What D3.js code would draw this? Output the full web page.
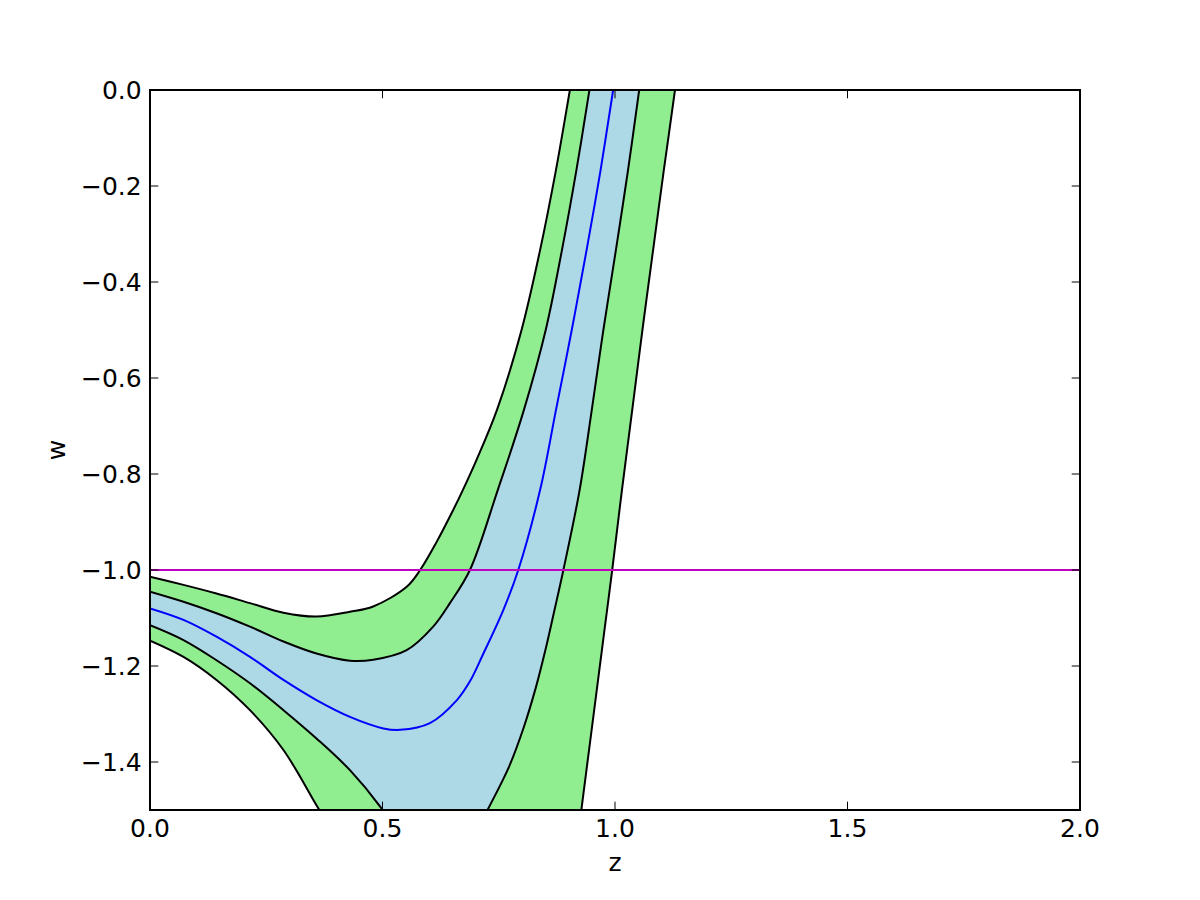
<!DOCTYPE html>
<html>
<head>
<meta charset="utf-8">
<script src="https://cdn.jsdelivr.net/npm/d3@7"></script>
<style>
body { margin: 0; background: white; }
text { font-family: "DejaVu Sans", sans-serif; font-size: 25px; fill: black; }
</style>
</head>
<body>
<svg id="chart" width="1200" height="900"></svg>
<script>
// outer band (2 sigma), upper edge
var zUp2 = [0, 0.072, 0.143, 0.215, 0.287, 0.358, 0.43, 0.48, 0.552, 0.581, 0.615, 0.652, 0.673, 0.702, 0.746, 0.799, 0.839, 0.873, 0.903, 0.912]
var wUp2 = [-1.014, -1.031, -1.049, -1.069, -1.089, -1.097, -1.087, -1.076, -1.035, -1.0, -0.944, -0.875, -0.833, -0.771, -0.667, -0.5, -0.333, -0.167, 0, 0.05]
// inner band (1 sigma), upper edge
var zUp1 = [0, 0.072, 0.143, 0.215, 0.287, 0.358, 0.43, 0.48, 0.552, 0.609, 0.645, 0.688, 0.748, 0.804, 0.851, 0.886, 0.917, 0.945, 0.953]
var wUp1 = [-1.045, -1.066, -1.09, -1.118, -1.149, -1.174, -1.189, -1.187, -1.167, -1.118, -1.069, -1.0, -0.833, -0.667, -0.5, -0.333, -0.167, 0, 0.05]
// mean curve
var zMid = [0, 0.072, 0.143, 0.215, 0.287, 0.358, 0.43, 0.502, 0.538, 0.602, 0.66, 0.688, 0.716, 0.76, 0.792, 0.839, 0.873, 0.907, 0.939, 0.969, 0.996, 1.005]
var wMid = [-1.08, -1.104, -1.139, -1.181, -1.229, -1.271, -1.306, -1.33, -1.333, -1.319, -1.271, -1.232, -1.176, -1.083, -1.0, -0.833, -0.667, -0.5, -0.333, -0.167, 0, 0.05]
// inner band lower edge: left piece (leaves through the bottom) and right piece
var zLo1a = [0, 0.072, 0.143, 0.215, 0.287, 0.358, 0.43, 0.495, 0.52]
var wLo1a = [-1.115, -1.146, -1.188, -1.236, -1.292, -1.351, -1.417, -1.493, -1.53]
var zLo1b = [0.71, 0.7275, 0.772, 0.804, 0.83, 0.852, 0.87, 0.889, 0.924, 0.95, 0.975, 1.002, 1.028, 1.052, 1.059]
var wLo1b = [-1.53, -1.497, -1.41, -1.327, -1.244, -1.16, -1.083, -1.0, -0.833, -0.667, -0.5, -0.333, -0.167, 0, 0.05]
// outer band lower edge, same split
var zLo2a = [0, 0.072, 0.143, 0.215, 0.287, 0.358, 0.383]
var wLo2a = [-1.147, -1.181, -1.229, -1.292, -1.375, -1.49, -1.53]
var zLo2b = [0.924, 0.928, 0.945, 0.96, 0.971, 0.983, 0.994, 1.015, 1.037, 1.059, 1.082, 1.105, 1.129, 1.135]
var wLo2b = [-1.53, -1.497, -1.369, -1.256, -1.173, -1.083, -1.0, -0.833, -0.667, -0.5, -0.333, -0.167, 0, 0.05]

var wRef = -1 // horizontal reference line
var xTicks = [0, 0.5, 1, 1.5, 2]
var yTicks = [0, -0.2, -0.4, -0.6, -0.8, -1.0, -1.2, -1.4]

// plot box (window.top is read-only, so no plain "top" here)
var padL = 150, padR = 1080, padT = 90, padB = 810

var svg = d3.select("#chart")
var x = d3.scaleLinear().domain([0, 2]).range([padL, padR])
var y = d3.scaleLinear().domain([-1.5, 0]).range([padB, padT])

function pts(zs, ws) {
  return zs.map((z, i) => [z, ws[i]])
}

var up2 = pts(zUp2, wUp2), up1 = pts(zUp1, wUp1), mid = pts(zMid, wMid)
var lo1a = pts(zLo1a, wLo1a), lo1b = pts(zLo1b, wLo1b)
var lo2a = pts(zLo2a, wLo2a), lo2b = pts(zLo2b, wLo2b)

var line = d3.line()
  .x(d => x(d[0]))
  .y(d => y(d[1]))
  .curve(d3.curveCatmullRom.alpha(0.5))

// glue several pieces into one closed outline
function outline(pieces) {
  return pieces.map((p, i) => i == 0 ? line(p) : line(p).replace(/^M/, 'L')).join('') + 'Z'
}
function rev(a) { return a.slice().reverse() }

svg.append("clipPath").attr("id", "plotclip")
  .append("rect")
  .attr("x", padL).attr("y", padT)
  .attr("width", padR - padL).attr("height", padB - padT)

var plot = svg.append("g").attr("clip-path", "url(#plotclip)")

// 2 sigma region first, 1 sigma on top
plot.append("path")
  .attr("d", outline([up2, rev(lo2b), rev(lo2a)]))
  .attr("fill", "#90ee90")
plot.append("path")
  .attr("d", outline([up1, rev(lo1b), rev(lo1a)]))
  .attr("fill", "#add8e6")

var edges = [up2, up1, lo1a, lo1b, lo2a, lo2b]
edges.forEach(e => {
  plot.append("path")
    .attr("d", line(e))
    .attr("fill", "none")
    .attr("stroke", "black")
    .attr("stroke-width", 2)
})

plot.append("path")
  .attr("d", line(mid))
  .attr("fill", "none")
  .attr("stroke", "#0000ff")
  .attr("stroke-width", 2)

plot.append("line")
  .attr("x1", x(0)).attr("x2", x(2))
  .attr("y1", y(wRef)).attr("y2", y(wRef))
  .attr("stroke", "#bf00bf")
  .attr("stroke-width", 2)

// ticks point inward on all four sides
var tl = 8.3
var fmt = d3.format(".1f")
xTicks.forEach(t => {
  svg.append("line").attr("x1", x(t)).attr("x2", x(t)).attr("y1", padB).attr("y2", padB - tl).attr("stroke", "black").attr("stroke-width", 1)
  svg.append("line").attr("x1", x(t)).attr("x2", x(t)).attr("y1", padT).attr("y2", padT + tl).attr("stroke", "black").attr("stroke-width", 1)
  svg.append("text")
    .attr("x", x(t)).attr("y", padB + 27)
    .attr("text-anchor", "middle")
    .text(fmt(t))
})
yTicks.forEach(t => {
  svg.append("line").attr("x1", padL).attr("x2", padL + tl).attr("y1", y(t)).attr("y2", y(t)).attr("stroke", "black").attr("stroke-width", 1)
  svg.append("line").attr("x1", padR).attr("x2", padR - tl).attr("y1", y(t)).attr("y2", y(t)).attr("stroke", "black").attr("stroke-width", 1)
  svg.append("text")
    .attr("x", padL - 8.3).attr("y", y(t))
    .attr("dy", "0.35em")
    .attr("text-anchor", "end")
    .text(fmt(t))
})

svg.append("rect")
  .attr("x", padL).attr("y", padT)
  .attr("width", padR - padL).attr("height", padB - padT)
  .attr("fill", "none")
  .attr("stroke", "black")
  .attr("stroke-width", 2)

svg.append("text")
  .attr("x", (padL + padR) / 2).attr("y", 871)
  .attr("text-anchor", "middle")
  .text("z")
svg.append("text")
  .attr("transform", "translate(65,450) rotate(-90)")
  .attr("text-anchor", "middle")
  .text("w")
</script>
</body>
</html>
